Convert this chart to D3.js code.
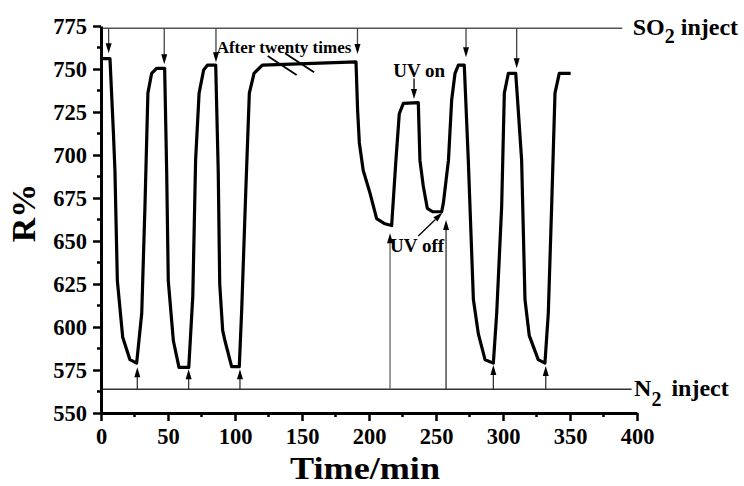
<!DOCTYPE html>
<html><head><meta charset="utf-8">
<script src="https://cdn.jsdelivr.net/npm/d3@7"></script>
<style>
body{margin:0;background:#fff}
svg text{font-family:"Liberation Serif","Times New Roman",serif;font-weight:bold;fill:#000}
</style>
</head><body>
<svg id="chart" width="744" height="486"></svg>
<script>
// ---- data ----
const timeMin = [0, 6.7, 9.2, 10.4, 12.2, 16.2, 21.6, 26.6, 30.4, 32.8, 35.0, 37.8, 41.5, 47.5,
  49.0, 50.2, 54.0, 58.2, 65.5, 68.5, 70.6, 73.2, 76.6, 79.5, 85.6,
  87.5, 88.6, 90.8, 92.5, 97.5, 103.2, 105.0, 108.0, 110.7, 114.2, 120.4, 190.3,
  191.5, 192.8, 195.7, 200.7, 205.7, 211.9, 216.9, 220.1, 222.6, 225.6, 236.8,
  238.0, 240.5, 243.5, 247.5, 254.2, 255.5, 259.3, 261.7, 264.2, 266.7, 271.1,
  274.1, 277.9, 281.6, 286.6, 292.8, 295.3, 299.0, 301.0, 304.0, 309.5,
  311.4, 313.9, 316.4, 319.6, 326.3, 331.3, 333.8, 336.3, 338.8, 342.0, 350.5];
const reflectance = [756, 756, 714, 691, 627, 594, 581, 579, 608, 670, 736, 747.5, 750.4, 750.4,
  691, 627, 592, 576.5, 576.5, 618, 697, 736, 749.4, 752.3, 752.3,
  690, 625, 598, 592, 577, 577, 610, 678, 736, 747.5, 752.3, 754.2,
  726, 707, 691, 678, 663, 660, 659, 697, 724, 730, 730.4,
  697, 682, 669, 667, 667, 672, 697, 732, 747.5, 752.3, 752.3,
  697, 616, 596, 581, 579, 608, 670, 736, 747.5, 747.5,
  726, 697, 616, 595, 581, 579, 608, 670, 736, 747.5, 747.5];

const xTicks = [0, 50, 100, 150, 200, 250, 300, 350, 400];
const xMinorTicks = [25, 75, 125, 175, 225, 275, 325, 375];
const yTicks = [550, 575, 600, 625, 650, 675, 700, 725, 750, 775];
const yMinorTicks = [562.5, 587.5, 612.5, 637.5, 662.5, 687.5, 712.5, 737.5, 762.5];

const so2Level = 773.7;
const n2Level = 563.8;
const levelLineEnd = 389;      // time where the SO2 line stops
const n2LineEnd = 396;         // time where the N2 line stops
const so2ArrowTimes = [5.7, 47.2, 85.8, 191.4, 272.4, 310.2];
const so2ArrowTips  = [759.1, 752.7, 753.9, 758.7, 756.8, 750.4];
const n2ArrowTimes  = [27.1, 65.4, 103.7, 215.7, 257.5, 292.8, 331.9];
const n2ArrowTips   = [576.6, 575.4, 575.4, 654.5, 662.2, 577.9, 577.3];

// ---- drawing ----
const svg = d3.select("#chart");
const x = d3.scaleLinear().domain([0, 400]).range([101, 637]);
const y = d3.scaleLinear().domain([550, 775]).range([413, 26]);

// reference lines (SO2 / N2)
svg.append("line").attr("x1", x(0)).attr("x2", x(levelLineEnd))
  .attr("y1", y(so2Level)).attr("y2", y(so2Level))
  .attr("stroke", "#555").attr("stroke-width", 1.5);
svg.append("line").attr("x1", x(0)).attr("x2", x(n2LineEnd))
  .attr("y1", y(n2Level)).attr("y2", y(n2Level))
  .attr("stroke", "#333").attr("stroke-width", 1.5);

// arrows
function arrow(px, y0, y1, color) {
  const dir = y1 > y0 ? 1 : -1;
  svg.append("line").attr("x1", px).attr("x2", px).attr("y1", y0).attr("y2", y1 - dir * 8)
    .attr("stroke", color).attr("stroke-width", 1.3);
  svg.append("path")
    .attr("d", `M${px},${y1} L${px - 3},${y1 - dir * 10} L${px + 3},${y1 - dir * 10} Z`)
    .attr("fill", "#000");
}
so2ArrowTimes.forEach((t, i) => arrow(x(t), y(so2Level), y(so2ArrowTips[i]), "#444"));
n2ArrowTimes.forEach((t, i) => arrow(x(t), y(n2Level), y(n2ArrowTips[i]), i === 3 ? "#666" : "#333"));

// data curve
const line = d3.line().x((d, i) => x(timeMin[i])).y((d, i) => y(reflectance[i]));
svg.append("path").datum(reflectance).attr("d", line)
  .attr("fill", "none").attr("stroke", "#000").attr("stroke-width", 3.2)
  .attr("stroke-linejoin", "round");

// break marks on the long plateau
const breakMarks = [[124.4, 757.6, 146, 746.5], [137.3, 759.1, 159, 748.1]];
breakMarks.forEach(b => svg.append("line")
  .attr("x1", x(b[0])).attr("y1", y(b[1])).attr("x2", x(b[2])).attr("y2", y(b[3]))
  .attr("stroke", "#000").attr("stroke-width", 1.8));

// annotation texts
svg.append("text").attr("x", x(86.3)).attr("y", y(759.1)).attr("font-size", 17)
  .text("After twenty times");
svg.append("text").attr("x", x(218.1)).attr("y", y(745.2)).attr("font-size", 19)
  .text("UV on");
svg.append("text").attr("x", x(215.7)).attr("y", y(643.8)).attr("font-size", 19)
  .text("UV off");

// UV on arrow
arrow(x(233.6), y(744.5), y(732.6), "#000");
// UV off diagonal arrow
(function () {
  const x0 = x(236.8), y0 = y(652.9), x1 = x(254.9), y1 = y(666.6);
  const ang = Math.atan2(y1 - y0, x1 - x0);
  const L = 10, W = 3;
  const bx = x1 - L * Math.cos(ang), by = y1 - L * Math.sin(ang);
  svg.append("line").attr("x1", x0).attr("y1", y0).attr("x2", bx).attr("y2", by)
    .attr("stroke", "#000").attr("stroke-width", 1.3);
  svg.append("path").attr("d",
    `M${x1},${y1} L${bx + W * Math.sin(ang)},${by - W * Math.cos(ang)} L${bx - W * Math.sin(ang)},${by + W * Math.cos(ang)} Z`)
    .attr("fill", "#000");
})();

// SO2 inject / N2 inject labels
const so2 = svg.append("text").attr("x", x(396.8)).attr("y", y(so2Level) + 7).attr("font-size", 24);
so2.append("tspan").text("SO");
so2.append("tspan").attr("font-size", 20).attr("dy", 8).text("2");
so2.append("tspan").attr("dy", -8).text(" inject");
const n2 = svg.append("text").attr("x", x(397.8)).attr("y", y(n2Level) + 7).attr("font-size", 24);
n2.append("tspan").text("N");
n2.append("tspan").attr("font-size", 20).attr("dy", 10).text("2");
n2.append("tspan").attr("dy", -10).attr("dx", 10).text("inject");

// axes
const xAxis = svg.append("g").attr("transform", `translate(0,${y(550)})`)
  .call(d3.axisBottom(x).tickValues(xTicks).tickSize(8).tickSizeOuter(0).tickPadding(10));
const yAxis = svg.append("g").attr("transform", `translate(${x(0)},0)`)
  .call(d3.axisLeft(y).tickValues(yTicks).tickSize(8).tickSizeOuter(0).tickPadding(6));
[xAxis, yAxis].forEach(g => {
  g.select(".domain").attr("stroke", "#000").attr("stroke-width", 3);
  g.selectAll(".tick line").attr("stroke", "#000").attr("stroke-width", 2.5);
  g.selectAll(".tick text").attr("font-size", 22.5).attr("font-family", null).attr("fill", "#000");
});
xAxis.selectAll(".tick text").attr("dy", null).attr("y", 31);
xAxis.selectAll(".minor").data(xMinorTicks).enter().append("line")
  .attr("x1", d => x(d)).attr("x2", d => x(d)).attr("y1", 0).attr("y2", 4)
  .attr("stroke", "#000").attr("stroke-width", 2.5);
yAxis.selectAll(".minor").data(yMinorTicks).enter().append("line")
  .attr("y1", d => y(d)).attr("y2", d => y(d)).attr("x1", 0).attr("x2", -4)
  .attr("stroke", "#000").attr("stroke-width", 2.5);

// axis titles
svg.append("text").attr("x", 365).attr("y", 479).attr("text-anchor", "middle")
  .attr("font-size", 32).attr("textLength", 150).attr("lengthAdjust", "spacingAndGlyphs")
  .text("Time/min");
svg.append("text").attr("transform", "translate(35,213) rotate(-90)").attr("text-anchor", "middle")
  .attr("font-size", 34).text("R%");
</script>
</body></html>
